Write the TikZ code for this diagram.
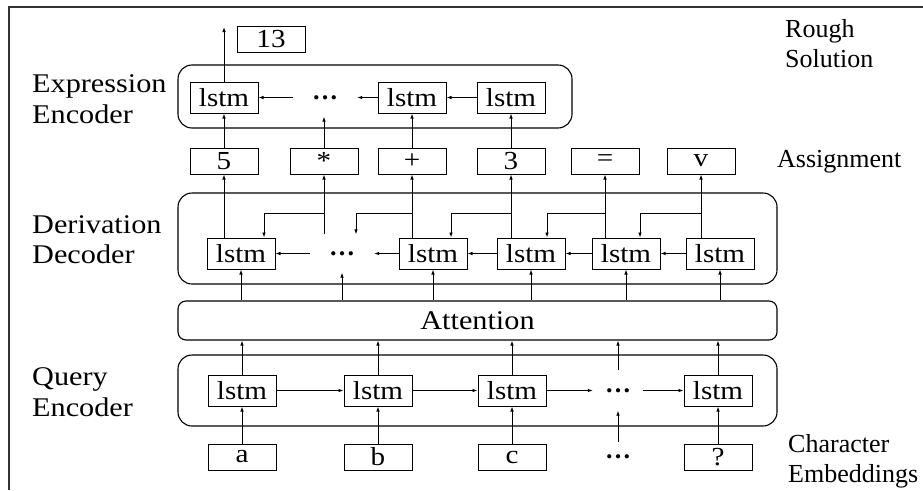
\documentclass[tikz,border=0pt]{standalone}
\usepackage{fontspec}
\setmainfont{Liberation Serif}
\newfontfamily\wideserif[FakeStretch=1.12]{Liberation Serif}
\usetikzlibrary{arrows.meta}
\begin{document}
\begin{tikzpicture}[x=1pt,y=-1pt,
  lbl/.style={anchor=base west, inner sep=0, font=\wideserif\fontsize{27}{31}\selectfont},
  rlbl/.style={anchor=base west, inner sep=0, font=\fontsize{26}{30}\selectfont},
  cell/.style={draw, line width=1pt, minimum width=68pt, minimum height=31pt, inner sep=0, font=\wideserif\fontsize{26}{30}\selectfont},
  tok/.style={cell, minimum height=26pt},
  dotsnode/.style={inner sep=0, minimum width=64pt, minimum height=38pt, font=\bfseries\fontsize{26}{30}\selectfont},
  group/.style={draw, line width=1.1pt, rounded corners=14pt},
  arr/.style={-{Latex[length=5pt,width=3.6pt]}, line width=0.9pt},
]
\useasboundingbox (0,0) rectangle (923,490);
\draw[line width=2pt, black!80] (9,490) -- (9,7) -- (923,7);

% ---------- Expression encoder ----------
\draw[group] (178,65) rectangle (572,128);
\node[cell] (ex1) at (224,97.5) {lstm};
\node[dotsnode] (exd) at (325,97.5) {…};
\node[cell] (ex2) at (412,97.5) {lstm};
\node[cell] (ex3) at (511,97.5) {lstm};
\draw[arr] (ex3) -- (ex2);
\draw[arr] (ex2) -- (exd);
\draw[arr] (exd) -- (ex1);
\node[tok] (r13) at (271,39.5) {13};
\coordinate (out) at (224,27);
\draw[arr] (ex1) -- (out);

% ---------- Assignment ----------
\node[tok] (a5) at (224,161) {5};
\node[tok] (amul) at (324,161) {*};
\node[tok] (aplus) at (412,161) {+};
\node[tok] (a3) at (511,161) {3};
\node[tok] (aeq) at (605,161) {=};
\node[tok] (av) at (701,161) {v};
\draw[arr] (a5) -- (ex1);
\draw[arr] (amul.north) -- (amul.north |- exd.south);
\draw[arr] (aplus) -- (ex2);
\draw[arr] (a3) -- (ex3);

% ---------- Derivation decoder ----------
\draw[group] (178,193) rectangle (777,284);
\node[cell] (d1) at (241,253.5) {lstm};
\node[dotsnode] (dd) at (342,253.5) {…};
\node[cell] (d2) at (433,253.5) {lstm};
\node[cell] (d3) at (531,253.5) {lstm};
\node[cell] (d4) at (626,253.5) {lstm};
\node[cell] (d5) at (720,253.5) {lstm};
\draw[arr] (d5) -- (d4);
\draw[arr] (d4) -- (d3);
\draw[arr] (d3) -- (d2);
\draw[arr] (d2) -- (dd);
\draw[arr] (dd) -- (d1);
\draw[arr] (a5.south |- d1.north) -- (a5.south);
\draw[arr] (amul.south |- dd.north) -- (amul.south);
\draw[arr] (aplus.south |- d2.north) -- (aplus.south);
\draw[arr] (a3.south |- d3.north) -- (a3.south);
\draw[arr] (aeq.south |- d4.north) -- (aeq.south);
\draw[arr] (av.south |- d5.north) -- (av.south);
\coordinate (by) at (0,213);
\draw[arr] (amul.south |- by) -| ([xshift=23pt]d1.north);
\draw[arr] (aplus.south |- by) -| ([xshift=14pt]dd.north);
\draw[arr] (a3.south |- by) -| ([xshift=18pt]d2.north);
\draw[arr] (aeq.south |- by) -| ([xshift=16pt]d3.north);
\draw[arr] (av.south |- by) -| ([xshift=14pt]d4.north);

% ---------- Attention ----------
\node[draw, line width=1.1pt, rounded corners=8pt, minimum width=599pt, minimum height=39pt, inner sep=0,
      font=\wideserif\fontsize{27}{31}\selectfont] (att) at (477.5,320.5) {Attention};
\foreach \n in {d1,dd,d2,d3,d4,d5} \draw[arr] (att.north -| \n) -- (\n.south);

% ---------- Query encoder ----------
\draw[group] (178,355) rectangle (777,426);
\node[cell] (q1) at (242,390.5) {lstm};
\node[cell] (q2) at (378,390.5) {lstm};
\node[cell] (q3) at (512,390.5) {lstm};
\node[dotsnode, minimum width=50pt, minimum height=40pt] (qd) at (618,390.5) {…};
\node[cell] (q5) at (718,390.5) {lstm};
\draw[arr] (q1) -- (q2);
\draw[arr] (q2) -- (q3);
\draw[arr] (q3) -- (qd);
\draw[arr] (qd) -- (q5);
\foreach \n in {q1,q2,q3,qd,q5} \draw[arr] (\n.north) -- (att.south -| \n);

% ---------- Inputs ----------
\node[tok] (ia) at (242,457) {a};
\node[tok] (ib) at (378,457) {b};
\node[tok] (ic) at (512,457) {c};
\node[dotsnode, minimum height=30pt] (idt) at (618,457) {…};
\node[tok] (iq) at (718,457) {?};
\draw[arr] (ia) -- (q1);
\draw[arr] (ib) -- (q2);
\draw[arr] (ic) -- (q3);
\draw[arr] (idt.north) -- (qd.south);
\draw[arr] (iq) -- (q5);

% ---------- Labels ----------
\node[lbl] (lE1) at (32,92) {Expression};
\node[lbl] (lE2) at (32,123) {Encoder};
\node[lbl] (lD1) at (32,233) {Derivation};
\node[lbl] (lD2) at (32,263) {Decoder};
\node[lbl] (lQ1) at (32,385) {Query};
\node[lbl] (lQ2) at (32,416) {Encoder};
\node[rlbl] (lR1) at (785,37) {Rough};
\node[rlbl] (lR2) at (785,67) {Solution};
\node[rlbl] (lA) at (777,167) {Assignment};
\node[rlbl] (lC1) at (788,452) {Character};
\node[rlbl] (lC2) at (788,482) {Embeddings};
\end{tikzpicture}
\end{document}
